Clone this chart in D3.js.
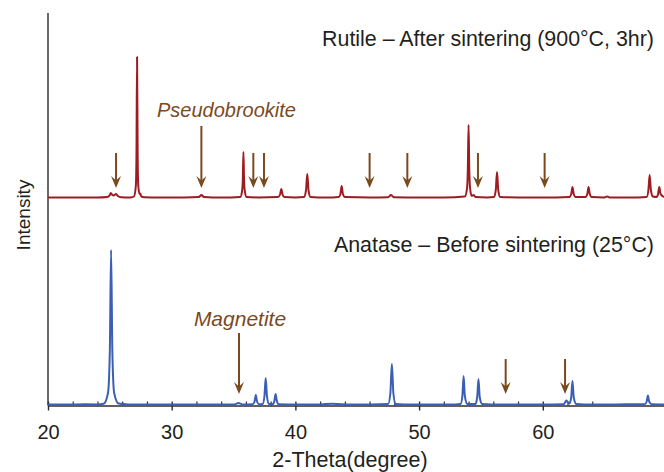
<!DOCTYPE html>
<html>
<head>
<meta charset="utf-8">
<script src="https://cdn.jsdelivr.net/npm/d3@7"></script>
<style>
  html, body { margin: 0; padding: 0; background: #ffffff; }
  svg { display: block; }
  text { font-family: "Liberation Sans", Arial, Helvetica, sans-serif; }
</style>
</head>
<body>
<svg id="chart" width="664" height="472"></svg>
<script>
// ---------------- DATA ----------------
// Anatase (before sintering, 25°C): 2θ (degree) and intensity (a.u.)
const anataseTheta = [
  20.0, 21.5, 23.0, 24.0, 24.5, 24.85, 25.0, 25.1, 25.2, 25.35, 25.7, 26.5,
  28.0, 30.0, 32.0, 34.0, 35.1, 35.4, 35.7, 36.55, 36.7, 36.8, 36.9, 37.05,
  37.35, 37.5, 37.6, 37.7, 37.85, 38.2, 38.3, 38.4, 38.5, 38.65, 40.0, 42.0,
  43.0, 44.5, 46.0, 47.5, 47.68, 47.8, 47.92, 48.1, 49.5, 51.0, 52.5, 53.35,
  53.5, 53.6, 53.7, 53.9, 54.55, 54.7, 54.8, 54.9, 55.1, 56.5, 58.0, 60.0,
  61.7, 61.82, 61.9, 62.0, 62.15, 62.3, 62.4, 62.5, 62.7, 64.0, 66.0, 68.25,
  68.4, 68.5, 68.6, 68.8, 69.8
];
const anataseIntensity = [
  0.6, 0.4, 0.7, 0.6, 1.2, 12, 55, 155, 55, 12, 1.5, 0.6,
  0.4, 0.6, 0.4, 0.5, 0.6, 2, 0.6, 0.8, 3.5, 10, 3.5, 0.8,
  1, 9, 27, 9, 1, 1, 4, 11, 4, 0.8, 0.5, 0.6,
  1.2, 0.5, 0.6, 1, 12, 41, 12, 1, 0.5, 0.6, 0.4, 1,
  9, 29, 9, 1, 1, 8, 26, 8, 1, 0.5, 0.6, 0.5,
  0.8, 3, 4.5, 3, 1.5, 8, 24, 8, 1, 0.5, 0.6, 0.8,
  3.5, 9.5, 3.5, 0.8, 0.6
];

// Rutile (after sintering, 900°C, 3hr): 2θ (degree) and intensity (a.u.)
const rutileTheta = [
  20.0, 22.0, 24.0, 24.8, 25.0, 25.07, 25.2, 25.3, 25.5, 25.65, 25.9, 26.7,
  26.95, 27.1, 27.15, 27.2, 27.25, 27.3, 27.4, 27.45, 27.55, 27.8, 29.0, 31.0,
  32.2, 32.4, 32.6, 34.0, 35.55, 35.7, 35.75, 35.8, 35.85, 35.9, 36.05, 37.0,
  38.6, 38.76, 38.86, 38.96, 39.1, 40.0, 40.7, 40.86, 40.96, 41.06, 41.22, 42.5,
  43.5, 43.64, 43.74, 43.84, 44.0, 46.0, 47.5, 47.73, 47.95, 50.0, 52.0, 53.7,
  53.88, 53.94, 54.0, 54.06, 54.12, 54.25, 54.4, 54.55, 55.5, 56.05, 56.2, 56.3,
  56.4, 56.55, 58.0, 60.0, 62.15, 62.3, 62.4, 62.5, 62.65, 63.45, 63.6, 63.7,
  63.8, 63.95, 65.0, 65.2, 65.4, 67.0, 68.4, 68.54, 68.64, 68.74, 68.9, 69.2,
  69.32, 69.42, 69.52, 69.8
];
const rutileIntensity = [
  0.5, 0.6, 0.5, 1, 3, 5, 3, 2.5, 4, 2, 0.8, 0.6,
  1.5, 12, 40, 141, 40, 12, 4, 4.5, 1.5, 0.8, 0.5, 0.6,
  1, 3, 1, 0.5, 1, 8, 18, 46, 18, 8, 1, 0.6,
  1, 3.5, 9, 3.5, 1, 0.6, 1, 8, 24, 8, 1, 0.5,
  1, 4, 12, 4, 1, 0.6, 0.8, 3, 0.8, 0.5, 0.6, 1.5,
  10, 28, 73, 28, 10, 2, 3, 1, 0.6, 1, 8, 26,
  8, 1, 0.6, 0.5, 1, 4, 11, 4, 1, 1, 4, 11,
  4, 1, 0.6, 1.5, 0.6, 0.5, 1, 8, 23, 8, 1.5, 1,
  4, 11, 4, 1
];
const rutileOffset = 207;   // vertical stacking offset of the rutile pattern (a.u.)

// Impurity markers (2θ, degree)
const pseudobrookiteMarks = [25.5, 32.4, 36.6, 37.46, 46.0, 49.05, 54.76, 60.15];
const magnetiteMarks = [35.44, 57.0, 61.8];

// Axis ticks
const majorTicks = [20, 30, 40, 50, 60];
const minorTicks = [22, 24, 26, 28, 32, 34, 36, 38, 42, 44, 46, 48, 52, 54, 56, 58, 62, 64];

// Text
const rutileTitle = "Rutile \u2013 After sintering (900\u00B0C, 3hr)";
const anataseTitle = "Anatase \u2013 Before sintering (25\u00B0C)";
const xTitle = "2-Theta(degree)";
const yTitle = "Intensity";

// ---------------- DRAW ----------------
const svg = d3.select("#chart");
const mLeft = 48, mRight = 664, mTop = 13, mBottom = 405;

const x = d3.scaleLinear().domain([20, 69.8]).range([mLeft, mRight]);
const y = d3.scaleLinear().domain([0, 392]).range([mBottom, mTop]);

const axisColor = "#2b2b2b";
const brown = "#7a4a1f";
const red = "#9d1c22";
const blue = "#3b5fb4";

// y axis line
svg.append("line")
  .attr("x1", mLeft).attr("x2", mLeft)
  .attr("y1", mTop).attr("y2", mBottom + 0.5)
  .attr("stroke", axisColor).attr("stroke-width", 1.4);

// x axis (major ticks + labels)
const xAxis = svg.append("g")
  .attr("transform", `translate(0,${mBottom + 0.5})`)
  .call(d3.axisBottom(x).tickValues(majorTicks).tickFormat(d3.format("d"))
        .tickSizeInner(5).tickSizeOuter(0).tickPadding(14));
xAxis.select(".domain").attr("stroke", axisColor).attr("stroke-width", 1.4);
xAxis.selectAll(".tick line").attr("stroke", axisColor).attr("stroke-width", 1.4).attr("y1", -4);
xAxis.selectAll(".tick text")
  .attr("fill", "#231f20")
  .style("font-size", "20px");

// minor ticks (pointing inward)
const xMinor = svg.append("g")
  .attr("transform", `translate(0,${mBottom + 0.5})`)
  .call(d3.axisBottom(x).tickValues(minorTicks).tickFormat("").tickSizeInner(-4).tickSizeOuter(0));
xMinor.select(".domain").remove();
xMinor.selectAll(".tick line").attr("stroke", axisColor).attr("stroke-width", 1.2);

// Lines
const line = d3.line().curve(d3.curveMonotoneX);

const anatasePts = anataseTheta.map((t, i) => [x(t), y(anataseIntensity[i])]);
const rutilePts = rutileTheta.map((t, i) => [x(t), y(rutileIntensity[i] + rutileOffset)]);

svg.append("path")
  .attr("d", line(anatasePts))
  .attr("fill", "none").attr("stroke", blue).attr("stroke-width", 2)
  .attr("stroke-linejoin", "round");

svg.append("path")
  .attr("d", line(rutilePts))
  .attr("fill", "none").attr("stroke", red).attr("stroke-width", 2)
  .attr("stroke-linejoin", "round");

// Arrows
function arrow(theta, baseY, tipUp, tailUp) {
  const xp = x(theta);
  const tipY = y(baseY + tipUp);
  const tailY = y(baseY + tailUp);
  const g = svg.append("g");
  g.append("line")
    .attr("x1", xp).attr("x2", xp)
    .attr("y1", tailY).attr("y2", tipY - 6)
    .attr("stroke", brown).attr("stroke-width", 2);
  g.append("path")
    .attr("d", `M${xp},${tipY} L${xp - 5},${tipY - 12} L${xp},${tipY - 7.5} L${xp + 5},${tipY - 12} Z`)
    .attr("fill", brown);
}
pseudobrookiteMarks.forEach((t, i) => {
  arrow(t, rutileOffset, 10, i === 1 ? 72 : 45);
});
magnetiteMarks.forEach((t, i) => {
  arrow(t, 0, 11, i === 0 ? 72 : 46);
});

// Phase labels
svg.append("text")
  .attr("x", 157).attr("y", 117)
  .attr("text-anchor", "start")
  .attr("fill", brown)
  .style("font-size", "20px").style("font-style", "italic")
  .text("Pseudobrookite");

svg.append("text")
  .attr("x", 240).attr("y", 326)
  .attr("text-anchor", "middle")
  .attr("fill", brown)
  .style("font-size", "21px").style("font-style", "italic")
  .text("Magnetite");

// Titles
svg.append("text")
  .attr("x", 654).attr("y", 46)
  .attr("text-anchor", "end")
  .attr("fill", "#231f20")
  .style("font-size", "21.4px")
  .text(rutileTitle);

svg.append("text")
  .attr("x", 654).attr("y", 252)
  .attr("text-anchor", "end")
  .attr("fill", "#231f20")
  .style("font-size", "21.4px")
  .text(anataseTitle);

// Axis titles
svg.append("text")
  .attr("x", 350).attr("y", 467)
  .attr("text-anchor", "middle")
  .attr("fill", "#231f20")
  .style("font-size", "21.5px")
  .text(xTitle);

svg.append("text")
  .attr("transform", "translate(30,215) rotate(-90)")
  .attr("text-anchor", "middle")
  .attr("fill", "#231f20")
  .style("font-size", "19px")
  .text(yTitle);
</script>
</body>
</html>
